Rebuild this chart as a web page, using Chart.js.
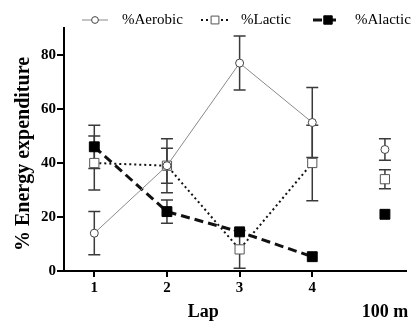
<!DOCTYPE html>
<html><head><meta charset="utf-8">
<script src="https://cdn.jsdelivr.net/npm/chart.js@4"></script>
<style>html,body{margin:0;padding:0;background:#fff}</style>
</head><body>
<canvas id="c" width="414" height="323" style="display:block;width:414px;height:323px"></canvas>
<script>
// ---- data ----
const laps = [1, 2, 3, 4, 5];          // 5 = the separate "100 m" column
const lapTicks = [1, 2, 3, 4];
const yTicks = [0, 20, 40, 60, 80];
const seriesNames = ['%Aerobic', '%Lactic', '%Alactic'];
const aerobic    = [14, 39, 77, 55, 45];
const aerobicErr = [8, 10, 10, 13, 4];
const lactic     = [40, 39, 8, 40, 34];
const lacticErr  = [10, 6.5, 7, 14, 3.5];
const alactic    = [46, 22, 14.5, 5.3, 21];
const alacticErr = [8, 4.3, 0, 0, 0];
const xTitle = 'Lap';
const extraLabel = '100 m';
const yTitle = '% Energy expenditure';

const SERIF = "'Liberation Serif', 'DejaVu Serif', serif";
const pts = (vals) => vals.map((v, i) => ({x: laps[i], y: v}));
const segHide = (color) => (ctx) => ctx.p1DataIndex === laps.length - 1 ? 'rgba(0,0,0,0)' : color;

const styles = [
  {color: '#8a8a8a', width: 1, dash: [], pointStyle: 'circle', radius: 4, fill: '#fff', pBorder: '#444', pWidth: 1},
  {color: '#111', width: 2, dash: [2, 3], pointStyle: 'rect', radius: 6.5, fill: '#fff', pBorder: '#555', pWidth: 1},
  {color: '#111', width: 3, dash: [9, 5], pointStyle: 'rect', radius: 7, fill: '#000', pBorder: '#000', pWidth: 1}
];
const values = [aerobic, lactic, alactic];
const errors = [aerobicErr, lacticErr, alacticErr];

const datasets = values.map((vals, k) => {
  const s = styles[k];
  return {
    label: seriesNames[k],
    data: pts(vals),
    borderColor: s.color,
    borderWidth: s.width,
    borderDash: s.dash,
    pointStyle: s.pointStyle,
    pointRadius: s.radius,
    pointBackgroundColor: s.fill,
    pointBorderColor: s.pBorder,
    pointBorderWidth: s.pWidth,
    tension: 0,
    fill: false,
    segment: {borderColor: segHide(s.color)}
  };
});

const errorBarPlugin = {
  id: 'errorBars',
  beforeDatasetsDraw(chart) {
    const ctx = chart.ctx, ys = chart.scales.y;
    ctx.save();
    ctx.strokeStyle = '#3a3a3a';
    ctx.lineWidth = 1.5;
    ctx.setLineDash([]);
    errors.forEach((errs, k) => {
      const meta = chart.getDatasetMeta(k);
      meta.data.forEach((el, j) => {
        const e = errs[j];
        if (!e) return;
        const v = values[k][j];
        const top = ys.getPixelForValue(v + e), bot = ys.getPixelForValue(v - e);
        const x = el.x;
        ctx.beginPath();
        ctx.moveTo(x, top); ctx.lineTo(x, bot);
        ctx.moveTo(x - 6, top); ctx.lineTo(x + 6, top);
        ctx.moveTo(x - 6, bot); ctx.lineTo(x + 6, bot);
        ctx.stroke();
      });
    });
    ctx.restore();
  }
};

const textPlugin = {
  id: 'texts',
  afterDraw(chart) {
    const ctx = chart.ctx, xs = chart.scales.x;
    ctx.save();
    ctx.fillStyle = '#000';
    // y-axis title
    ctx.save();
    ctx.translate(24, 154);
    ctx.rotate(-Math.PI / 2);
    ctx.font = "bold 20px " + SERIF;
    ctx.textAlign = 'center';
    ctx.textBaseline = 'middle';
    ctx.fillText(yTitle, 0, 0);
    ctx.restore();
    // x-axis titles
    ctx.font = "bold 18px " + SERIF;
    ctx.textAlign = 'center';
    ctx.textBaseline = 'middle';
    ctx.fillText(xTitle, xs.getPixelForValue((lapTicks[0] + lapTicks[lapTicks.length - 1]) / 2), 312);
    ctx.fillText(extraLabel, xs.getPixelForValue(laps[laps.length - 1]), 312);
    // legend
    const legendY = 20;
    const items = [
      {x0: 82, x1: 108, mx: 95, tx: 122},
      {x0: 201, x1: 229, mx: 215, tx: 241},
      {x0: 313, x1: 341, mx: 328, tx: 355}
    ];
    items.forEach((it, k) => {
      const s = styles[k];
      ctx.beginPath();
      ctx.strokeStyle = s.color;
      ctx.lineWidth = s.width;
      ctx.setLineDash(s.dash);
      ctx.moveTo(it.x0, legendY); ctx.lineTo(it.x1, legendY);
      ctx.stroke();
      ctx.setLineDash([]);
      ctx.fillStyle = s.fill;
      ctx.strokeStyle = s.pBorder;
      ctx.lineWidth = s.pWidth;
      Chart.helpers.drawPoint(ctx, {pointStyle: s.pointStyle, radius: s.radius * 0.85, borderWidth: s.pWidth, rotation: 0}, it.mx, legendY);
      ctx.fillStyle = '#000';
      ctx.font = "15px " + SERIF;
      ctx.textAlign = 'left';
      ctx.textBaseline = 'middle';
      ctx.fillText(seriesNames[k], it.tx, legendY);
    });
    ctx.restore();
  }
};

new Chart(document.getElementById('c'), {
  type: 'line',
  data: {datasets},
  options: {
    responsive: false,
    animation: false,
    devicePixelRatio: 1,
    layout: {padding: {top: 28, right: 0, left: 0, bottom: 0}},
    plugins: {legend: {display: false}, tooltip: {enabled: false}},
    scales: {
      x: {
        type: 'linear',
        min: 0.583, max: 5.29,
        afterFit(s) { s.height = 52; },
        afterBuildTicks(s) { s.ticks = lapTicks.map(v => ({value: v})); },
        border: {display: true, color: '#000', width: 2},
        grid: {display: true, drawOnChartArea: false, drawTicks: true, tickLength: 6, lineWidth: 2, color: '#000'},
        ticks: {color: '#000', padding: 2, font: {family: SERIF, size: 15, weight: 'bold'}, callback: v => String(v)}
      },
      y: {
        min: 0, max: 90,
        afterFit(s) { s.width = 64; },
        afterBuildTicks(s) { s.ticks = yTicks.map(v => ({value: v})); },
        border: {display: true, color: '#000', width: 2},
        grid: {display: true, drawOnChartArea: false, drawTicks: true, tickLength: 7, lineWidth: 2, color: '#000'},
        ticks: {color: '#000', padding: 1, font: {family: SERIF, size: 15, weight: 'bold'}, callback: v => String(v)}
      }
    }
  },
  plugins: [errorBarPlugin, textPlugin]
});
</script>
</body></html>
